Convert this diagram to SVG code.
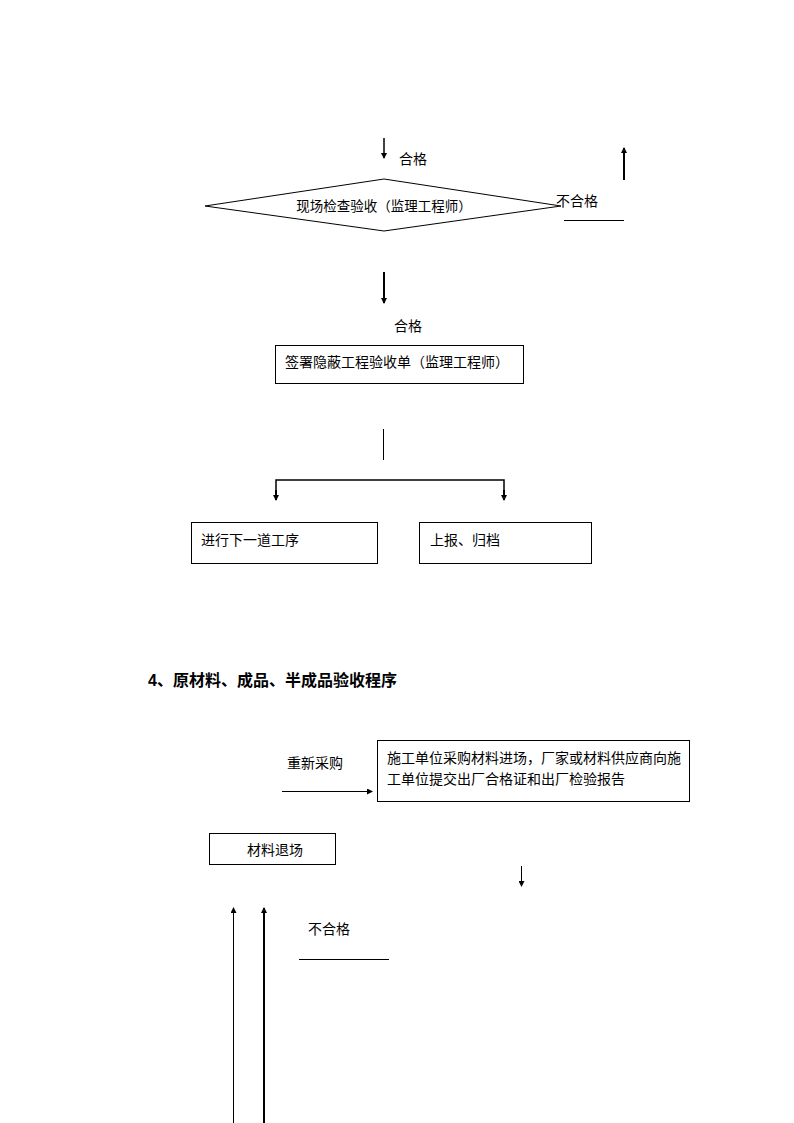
<svg xmlns="http://www.w3.org/2000/svg" width="794" height="1123" viewBox="0 0 794 1123">
<style>
text{font-family:"Liberation Sans","Noto Sans CJK SC",sans-serif;font-size:14px;fill:#000}
.h{font-size:16px;font-weight:bold}
.box{fill:#fff;stroke:#000;stroke-width:1}
.ln{fill:none;stroke:#000;stroke-width:1}
.tk{fill:none;stroke:#000;stroke-width:2}
</style>
<defs>
<marker id="ah" viewBox="0 0 6 6" refX="5" refY="3" markerWidth="6" markerHeight="6" markerUnits="userSpaceOnUse" orient="auto">
<path d="M0,0 L6,3 L0,6 z" fill="#000"/>
</marker>
</defs>
<rect width="794" height="1123" fill="#fff"/>
<g id="connectors">
<line class="tk" x1="384" y1="138" x2="384" y2="158" marker-end="url(#ah)" style="stroke-width:1.5"/>
<line class="tk" x1="624" y1="180" x2="624" y2="148" marker-end="url(#ah)"/>
<line class="ln" x1="564" y1="220.5" x2="624" y2="220.5"/>
<line class="tk" x1="384" y1="272" x2="384" y2="303" marker-end="url(#ah)"/>
<line class="ln" x1="383.5" y1="429" x2="383.5" y2="460"/>
<polyline class="tk" points="276,500 276,480 504,480 504,500" style="stroke-width:1.5"/>
<line class="tk" x1="276" y1="490" x2="276" y2="500" marker-end="url(#ah)"/>
<line class="tk" x1="504" y1="490" x2="504" y2="500" marker-end="url(#ah)"/>
<line class="ln" x1="282" y1="791.5" x2="372" y2="791.5" marker-end="url(#ah)"/>
<line class="ln" x1="521.5" y1="866" x2="521.5" y2="886" marker-end="url(#ah)"/>
<line class="ln" x1="233.5" y1="1123" x2="233.5" y2="908" marker-end="url(#ah)"/>
<line class="tk" x1="264" y1="1123" x2="264" y2="908" marker-end="url(#ah)"/>
<line class="ln" x1="299" y1="959.5" x2="389" y2="959.5"/>
</g>
<g id="lbl1"><text x="399" y="164">合格</text></g>
<g id="n_inspect">
<polygon class="box" points="205,206 384,179 561,206 384,231"/>
<text x="384" y="211" text-anchor="middle" style="font-size:13.5px">现场检查验收（监理工程师）</text>
</g>
<g id="lbl2"><text x="556" y="206">不合格</text></g>
<g id="lbl3"><text x="394" y="331">合格</text></g>
<g id="n_sign">
<rect class="box" x="275.5" y="345.5" width="248" height="38"/>
<text x="285" y="367">签署隐蔽工程验收单（监理工程师）</text>
</g>
<g id="n_next">
<rect class="box" x="191.5" y="522.5" width="186" height="41"/>
<text x="201" y="545">进行下一道工序</text>
</g>
<g id="n_report">
<rect class="box" x="419.5" y="522.5" width="172" height="41"/>
<text x="430" y="545">上报、归档</text>
</g>
<text class="h" x="148" y="686">4、原材料、成品、半成品验收程序</text>
<g id="lbl4"><text x="287" y="768">重新采购</text></g>
<g id="n_purchase">
<rect class="box" x="377.5" y="740.5" width="312" height="61"/>
<text x="387" y="763">施工单位采购材料进场，厂家或材料供应商向施</text>
<text x="387" y="784">工单位提交出厂合格证和出厂检验报告</text>
</g>
<g id="n_return">
<rect class="box" x="209.5" y="833.5" width="126" height="31"/>
<text x="247" y="855">材料退场</text>
</g>
<g id="lbl5"><text x="308" y="934">不合格</text></g>
</svg>
